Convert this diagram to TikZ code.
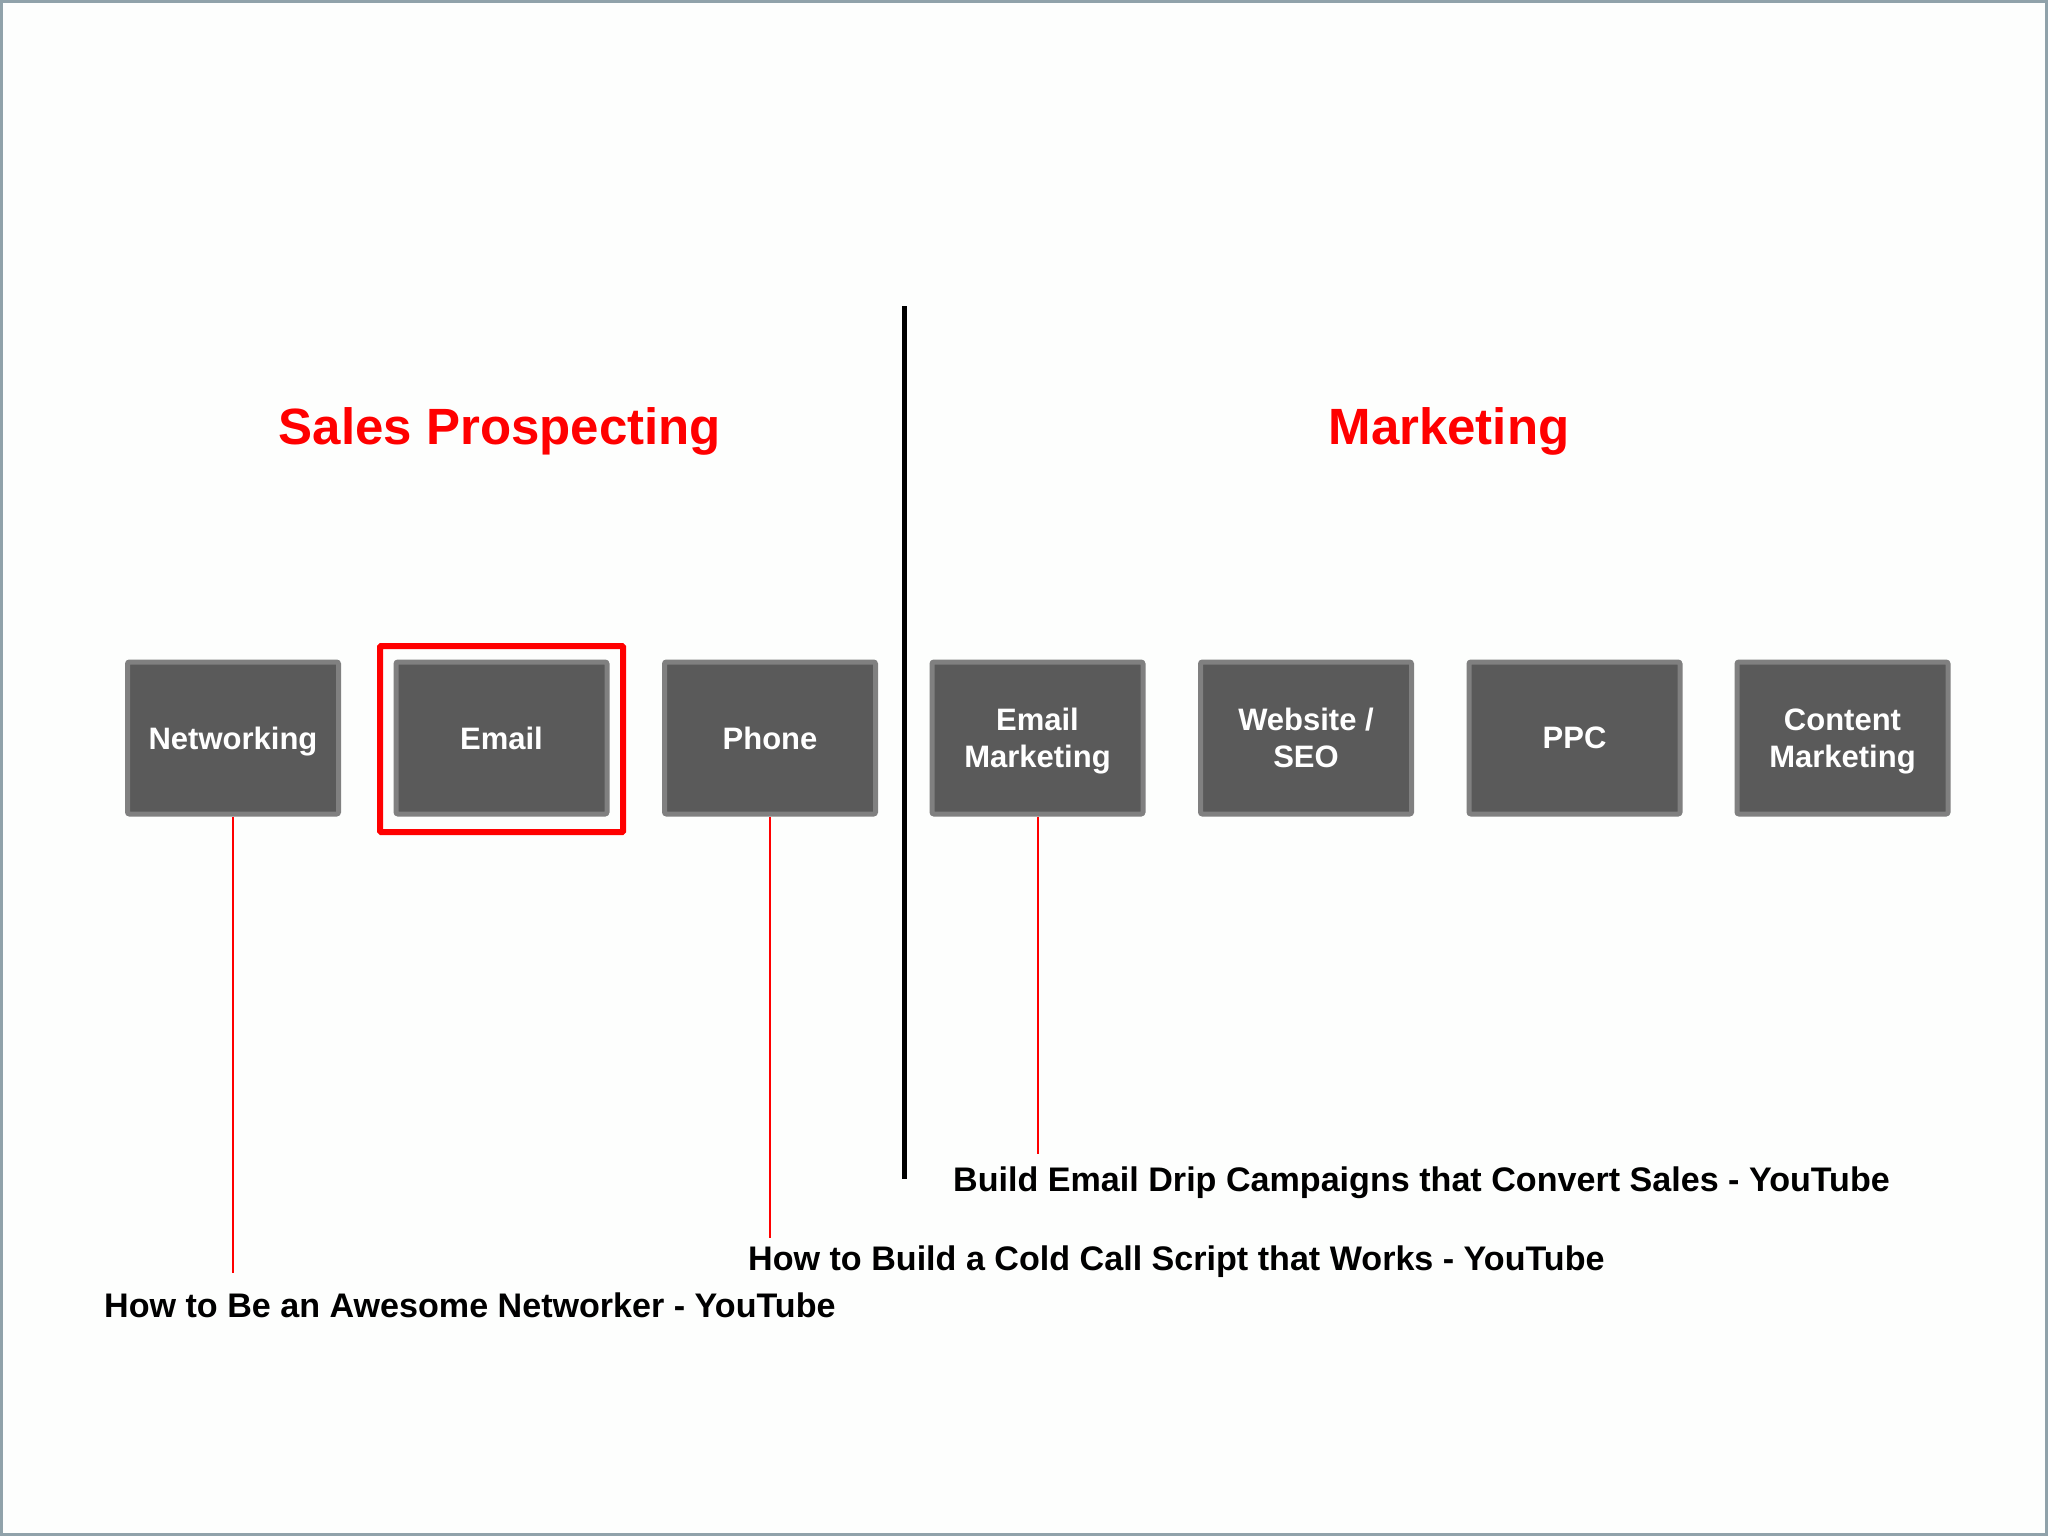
\documentclass[tikz,border=0pt]{standalone}
\usepackage{fontspec}
\setmainfont{Liberation Sans}
\definecolor{boxfill}{HTML}{5A5A5A}
\definecolor{boxedge}{HTML}{808080}
\definecolor{frameblue}{HTML}{90A2AA}
\definecolor{bg}{HTML}{FDFEFD}
\definecolor{hired}{HTML}{FF0000}
\begin{document}
\begin{tikzpicture}[x=1pt,y=-1pt,
  catbox/.style={draw=boxedge, fill=boxfill, line width=5pt, rounded corners=2pt,
    minimum width=211pt, minimum height=152pt, inner sep=0pt, align=center, text depth=0pt,
    text=white, font=\fontsize{31}{37}\selectfont\bfseries},
  heading/.style={text=hired, font=\fontsize{51}{60}\selectfont\bfseries, inner sep=0pt, text depth=0pt},
  linklabel/.style={anchor=west, inner sep=0pt, text depth=0pt, font=\fontsize{34.1}{40}\selectfont\bfseries},
  link/.style={draw=hired, line width=2pt},
  highlight/.style={draw=hired, line width=6pt, rounded corners=1pt, minimum width=243pt, minimum height=186pt, inner sep=0pt},
  divider/.style={line width=5pt, draw=black}]
\fill[bg] (0,0) rectangle (2048,1536);
\draw[frameblue, line width=3pt] (1.5,1.5) rectangle (2046.5,1534.5);
\useasboundingbox (0,0) rectangle (2048,1536);

\node[heading] (hsales) at (500,426) {Sales Prospecting};
\node[heading] (hmkt) at (1449,426) {Marketing};

\coordinate (dtop) at (904,306);
\coordinate (dbot) at (904,1179);
\draw[divider] (dtop) -- (dbot);

\node[catbox] (net) at (233,738) {Networking};
\node[catbox] (email) at (501.5,738) {Email};
\node[catbox] (phone) at (770,738) {Phone};
\node[catbox] (emk) at (1037.5,738) {Email\\Marketing};
\node[catbox] (web) at (1306,738) {Website /\\SEO};
\node[catbox] (ppc) at (1574.5,738) {PPC};
\node[catbox] (cmk) at (1842.5,738) {Content\\Marketing};

\node[highlight] (hl) at (501.5,739) {};

\node[linklabel] (l1) at (104,1305) {How to Be an Awesome Networker - YouTube};
\node[linklabel] (l2) at (748,1258) {How to Build a Cold Call Script that Works - YouTube};
\node[linklabel] (l3) at (953,1179) {Build Email Drip Campaigns that Convert Sales - YouTube};

\draw[link, shorten >=19pt] (net.south) -- (net.south |- l1.north);
\draw[link, shorten >=7pt] (phone.south) -- (phone.south |- l2.north);
\draw[link, shorten >=12pt] (emk.south) -- (emk.south |- l3.north);
\end{tikzpicture}
\end{document}
